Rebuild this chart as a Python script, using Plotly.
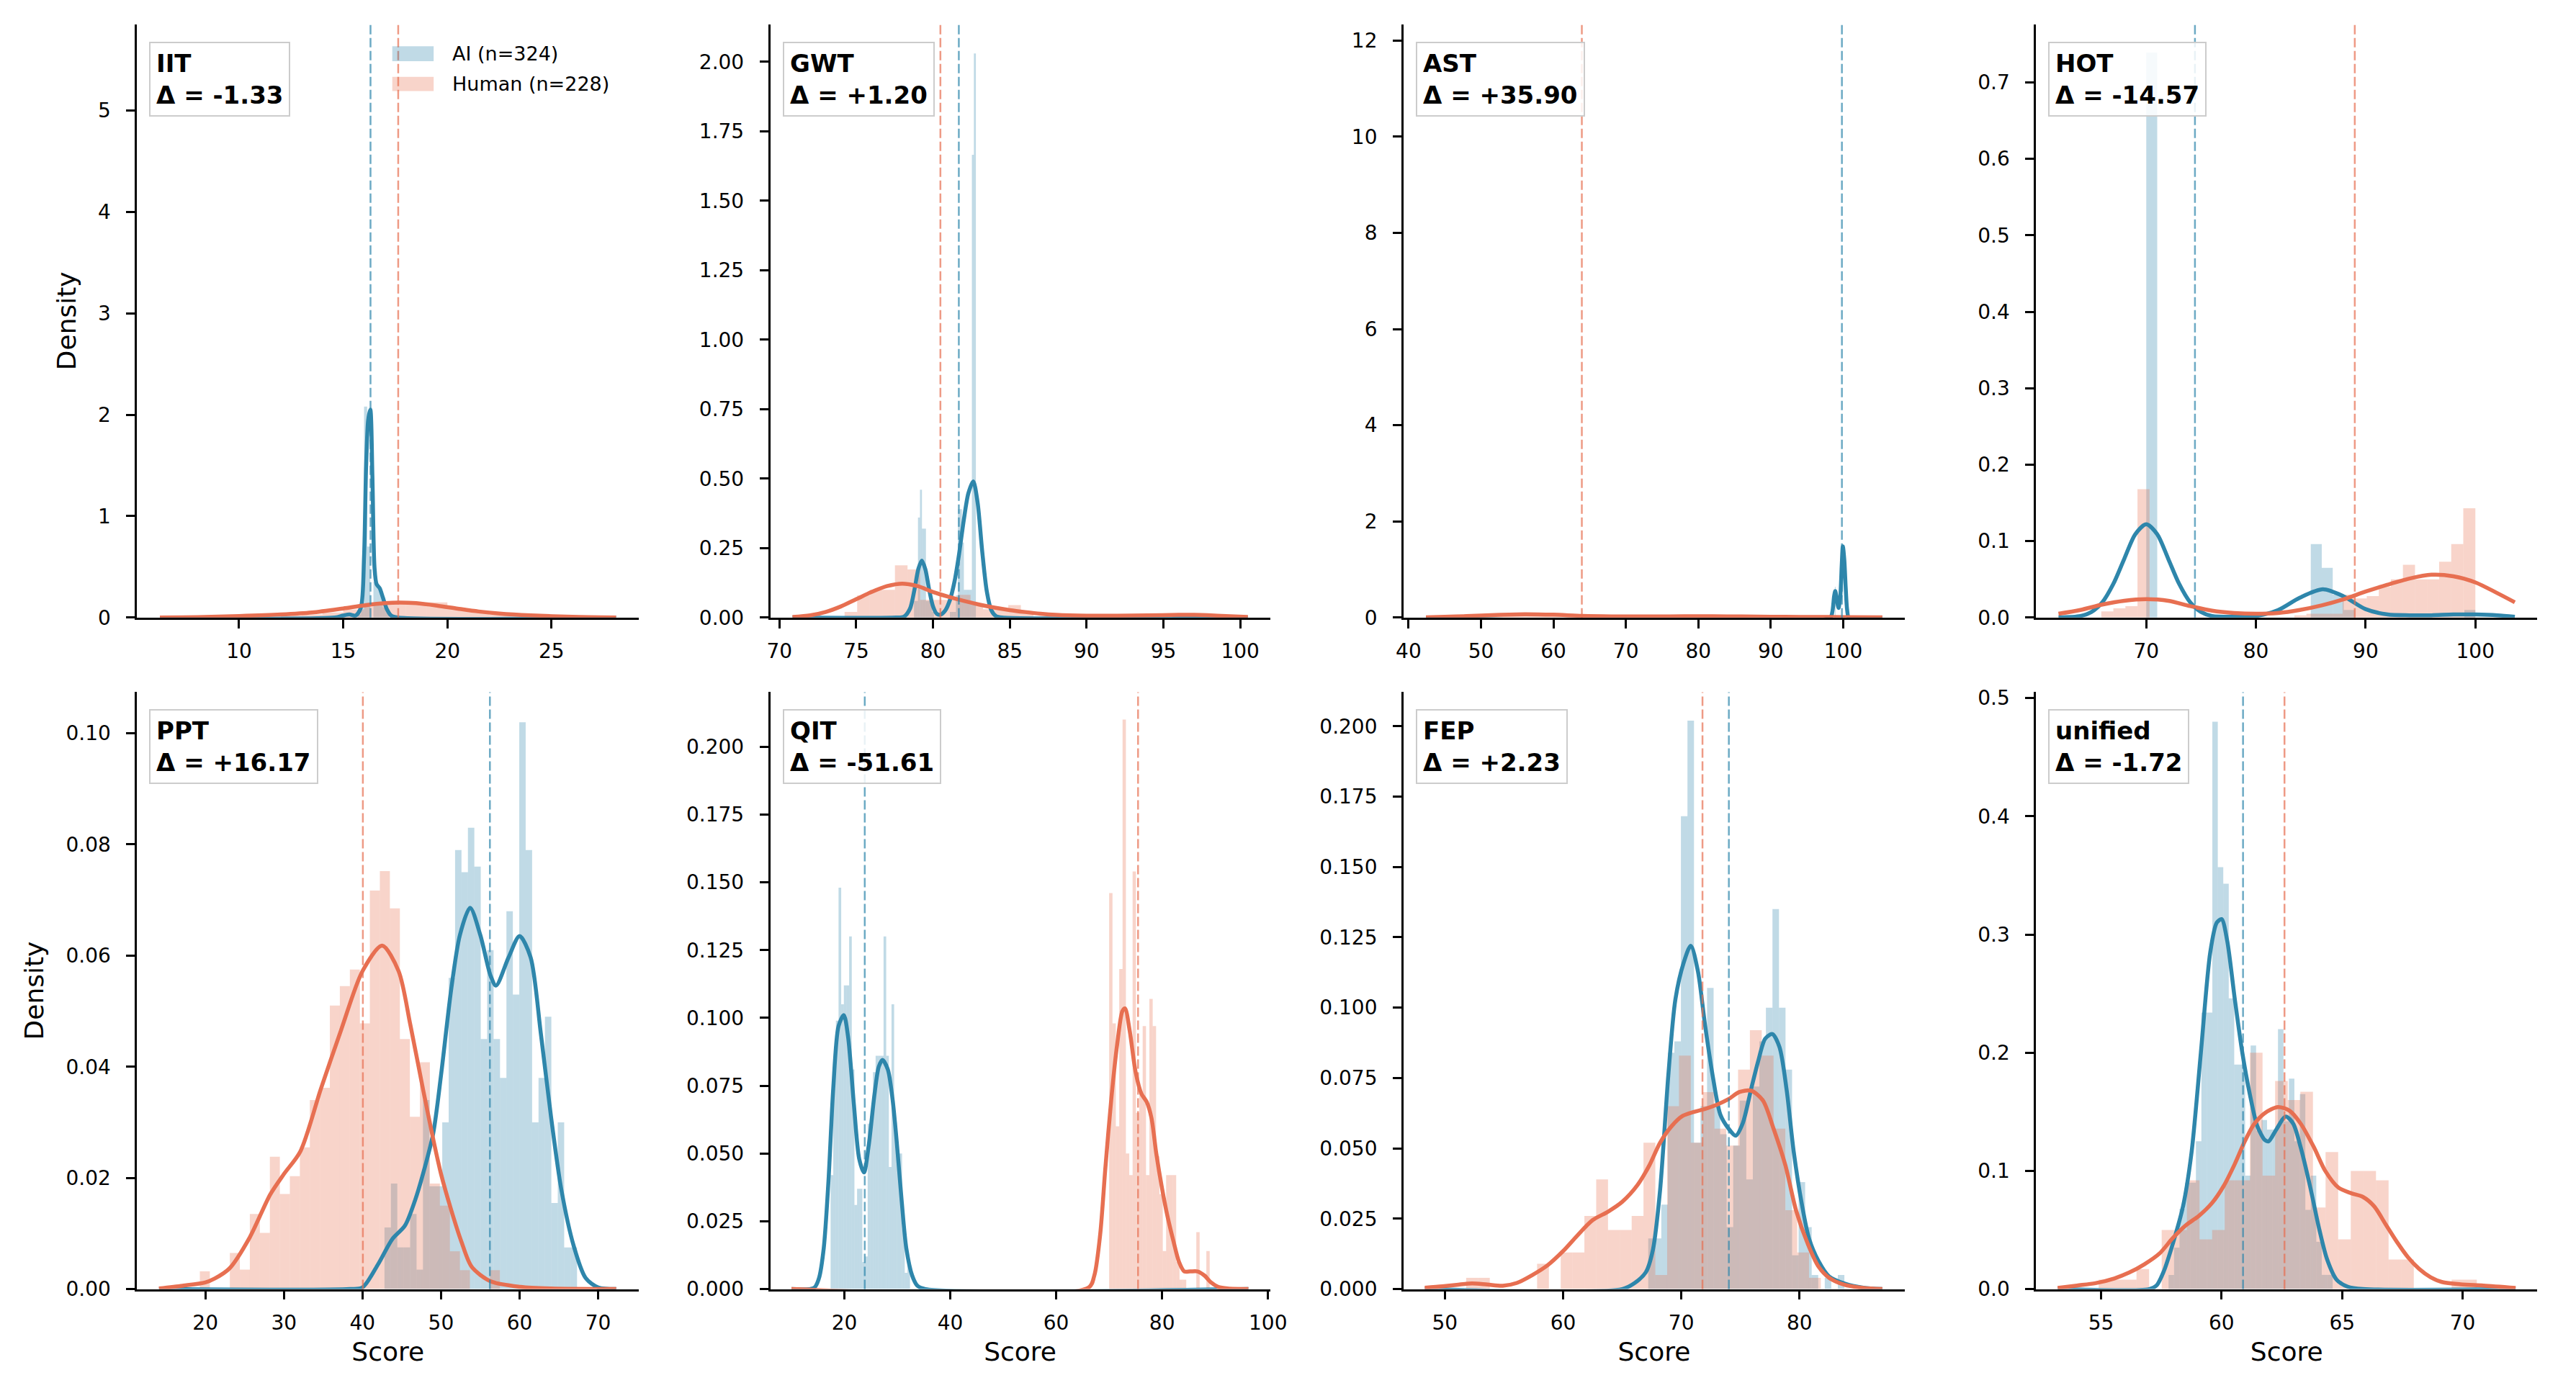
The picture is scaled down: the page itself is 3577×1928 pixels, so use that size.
import plotly.graph_objects as go

# ------------------------------------------------------------------ data
THEORIES = ["IIT", "GWT", "AST", "HOT", "PPT", "QIT", "FEP", "unified"]
DELTA_LABELS = ["-1.33", "+1.20", "+35.90", "-14.57", "+16.17", "-51.61", "+2.23", "-1.72"]
AI_MEANS = [16.31, 81.68, 99.82, 74.44, 56.22, 23.85, 74.02, 60.89]
HUMAN_MEANS = [17.64, 80.48, 63.92, 89.01, 40.05, 75.46, 71.79, 62.61]
N_AI = 324
N_HUMAN = 228

# histogram bins: first edge, bin width, densities
IIT_AI_START, IIT_AI_W = 15.70, 0.15
IIT_AI_H = [0.03, 0.15, 2.08, 0.70, 0.0, 0.35, 0.30, 0.25, 0.10, 0.05]
IIT_HU_START, IIT_HU_W = 10.0, 1.0
IIT_HU_H = [0.01, 0.0, 0.02, 0.03, 0.05, 0.08, 0.13, 0.15, 0.14, 0.15, 0.09, 0.06, 0.03, 0.02, 0.01, 0.005]

GWT_AI_START, GWT_AI_W = 78.76, 0.13
GWT_AI_H = [0.06, 0.06, 0.36, 0.46, 0.32, 0.32, 0.06, 0.06, 0.06, 0.02,
            0, 0, 0, 0, 0, 0, 0, 0, 0.02, 0.02,
            0.02, 0.08, 0.39, 0.39, 0.27, 0.10, 0.10, 0.10, 0.10, 1.665, 2.03]
GWT_HU_START, GWT_HU_W = 74.24, 0.82
GWT_HU_H = [0.02, 0.08, 0.10, 0.10, 0.188, 0.173, 0.064, 0.064, 0.064, 0.082,
            0.05, 0.03, 0.03, 0.045, 0.018, 0.005, 0.005, 0.0, 0.005, 0,
            0, 0, 0, 0, 0, 0, 0.01, 0.01, 0.005]

AST_AI_START, AST_AI_W = 98.85, 0.1
AST_AI_H = [0.64]
AST_HU_START, AST_HU_W = 50.0, 1.6
AST_HU_H = [0.04, 0.06, 0.08, 0.07, 0.10, 0.06, 0.05, 0.08, 0.04, 0.03,
            0.02, 0.03, 0.02, 0.02, 0.03, 0.02, 0.03, 0.04, 0.03, 0.02,
            0.03, 0.02, 0.02, 0.01, 0.02, 0.01, 0.02, 0.01, 0.01, 0.02]

HOT_AI_START, HOT_AI_W = 70.0, 1.0
HOT_AI_H = [0.739, 0, 0, 0, 0, 0, 0, 0, 0, 0,
            0, 0, 0, 0, 0, 0.096, 0.065, 0.03, 0.01, 0,
            0, 0, 0, 0, 0, 0, 0, 0, 0, 0.01]
HOT_HU_START, HOT_HU_W = 65.9, 1.1
HOT_HU_H = [0.008, 0.012, 0.015, 0.168, 0, 0, 0, 0, 0, 0,
            0, 0, 0, 0, 0, 0, 0.003, 0.005, 0.005, 0.005,
            0.03, 0.025, 0.028, 0.04, 0.05, 0.069, 0.05, 0.05, 0.073, 0.096, 0.143]

PPT_AI_START, PPT_AI_W = 42.8, 0.817
PPT_AI_H = [0.0111, 0.019, 0.0075, 0.0075, 0.0135, 0.0035, 0.034, 0.0185, 0.0185, 0.03,
            0.056, 0.079, 0.075, 0.083, 0.076, 0.045, 0.061, 0.045, 0.038, 0.068,
            0.053, 0.102, 0.079, 0.03, 0.038, 0.049, 0.0155, 0.03, 0.0075, 0.0075]
PPT_HU_START, PPT_HU_W = 19.3, 1.273
PPT_HU_H = [0.0032, 0, 0, 0.0065, 0.0035, 0.0135, 0.0101, 0.0238, 0.0171, 0.0203,
            0.0255, 0.034, 0.0362, 0.051, 0.0545, 0.0575, 0.0478, 0.0717, 0.0752, 0.0685,
            0.045, 0.031, 0.0408, 0.019, 0.015, 0.0068, 0.0034, 0, 0, 0.0034]

QIT_AI_START, QIT_AI_W = 17.4, 0.5
QIT_AI_H = [0.042, 0.08, 0.099, 0.148, 0.105, 0.112, 0.112, 0.13, 0.081, 0.031,
            0.037, 0.037, 0.01, 0.012, 0.061, 0.061, 0.08, 0.086, 0.086, 0.086,
            0.13, 0.086, 0.045, 0.105, 0.0615, 0.047, 0.05, 0.022, 0.006, 0.01]
QIT_HU_START, QIT_HU_W = 70.0, 0.633
QIT_HU_H = [0.146, 0.098, 0.06, 0.118, 0.21, 0.05, 0.042, 0.154, 0.065, 0.072,
            0.097, 0.042, 0.107, 0.097, 0.049, 0.035, 0.014, 0.042, 0.042, 0.042,
            0.01, 0.0035, 0.0035, 0, 0, 0, 0.021, 0, 0, 0.014]

FEP_AI_START, FEP_AI_W = 67.2, 0.553
FEP_AI_H = [0.018, 0.018, 0.03, 0.084, 0.088, 0.168, 0.202, 0.052, 0.065, 0.107,
            0.065, 0.055, 0.022, 0.051, 0.067, 0.039, 0.072, 0.088, 0.1, 0.135,
            0.1, 0.078, 0.012, 0.038, 0.022, 0.005, 0, 0.004, 0, 0.005]
FEP_HU_START, FEP_HU_W = 51.8, 1.0
FEP_HU_H = [0.004, 0.004, 0, 0, 0, 0, 0.009, 0, 0.013, 0.013,
            0.026, 0.039, 0.021, 0.021, 0.026, 0.052, 0.005, 0.065, 0.083, 0.052,
            0.07, 0.057, 0.051, 0.078, 0.092, 0.083, 0.057, 0.028, 0.013, 0.004]

UNI_AI_START, UNI_AI_W = 57.8, 0.227
UNI_AI_H = [0.012, 0.035, 0.068, 0.09, 0.09, 0.125, 0.234, 0.234, 0.48, 0.357,
            0.343, 0.246, 0.19, 0.19, 0.096, 0.206, 0.134, 0.143, 0.135, 0.135,
            0.22, 0.142, 0.178, 0.125, 0.165, 0.067, 0.096, 0.04, 0.012, 0.012]
UNI_HU_START, UNI_HU_W = 54.9, 0.523
UNI_HU_H = [0.008, 0.008, 0.008, 0.017, 0, 0.05, 0.05, 0.092, 0.042, 0.05,
            0.092, 0.092, 0.2, 0.096, 0.176, 0.16, 0.167, 0.069, 0.116, 0.042,
            0.1, 0.1, 0.092, 0.025, 0.025, 0, 0, 0, 0.008, 0.008]

# kernel density curves (x, density)
IIT_AI_KDE_X = [6.2, 14.6, 15.0, 15.3, 15.6, 15.85, 16.0, 16.1, 16.2, 16.3, 16.4, 16.5, 16.6, 16.75, 16.9, 17.1, 17.3, 17.6, 28.1]
IIT_AI_KDE_Y = [0, 0, 0.02, 0.03, 0.02, 0.1, 0.6, 1.5, 1.95, 2.05, 1.4, 0.5, 0.33, 0.29, 0.2, 0.08, 0.02, 0, 0]
IIT_HU_KDE_X = [6.2, 8, 10, 12, 13.5, 15, 16, 17, 17.7, 18.5, 19.5, 20.5, 21.5, 22.5, 24, 26, 28.1]
IIT_HU_KDE_Y = [0.0, 0.005, 0.015, 0.03, 0.05, 0.09, 0.12, 0.142, 0.148, 0.142, 0.118, 0.088, 0.06, 0.04, 0.022, 0.008, 0.001]

GWT_AI_KDE_X = [70.85, 77.6, 78.1, 78.5, 78.8, 79.05, 79.27, 79.5, 79.75, 80.0, 80.25, 80.5, 80.8, 81.1, 81.4,
                81.7, 82.0, 82.3, 82.62, 82.9, 83.2, 83.5, 83.8, 84.1, 84.5, 100.5]
GWT_AI_KDE_Y = [0, 0, 0.003, 0.032, 0.103, 0.176, 0.205, 0.174, 0.1, 0.04, 0.013, 0.011, 0.026, 0.063, 0.13,
                0.23, 0.35, 0.447, 0.49, 0.415, 0.24, 0.095, 0.026, 0.005, 0, 0]
GWT_HU_KDE_X = [70.85, 72, 73, 74, 75, 76, 77, 78, 79, 80, 81, 82, 83, 84, 85, 86, 87, 88, 90, 92, 94, 96, 97, 98.5, 100.5]
GWT_HU_KDE_Y = [0.002, 0.008, 0.02, 0.04, 0.066, 0.092, 0.113, 0.122, 0.113, 0.092, 0.075, 0.06, 0.047, 0.036,
                0.027, 0.02, 0.014, 0.01, 0.007, 0.007, 0.008, 0.01, 0.01, 0.007, 0.002]

AST_AI_KDE_X = [42.4, 98.2, 98.5, 98.75, 98.9, 99.1, 99.35, 99.6, 99.8, 99.95, 100.15, 100.35, 100.55, 100.8, 105.4]
AST_AI_KDE_Y = [0, 0, 0.12, 0.45, 0.55, 0.4, 0.2, 0.45, 1.1, 1.48, 1.2, 0.6, 0.15, 0, 0]
AST_HU_KDE_X = [42.4, 45, 48, 52, 56, 60, 64, 68, 72, 76, 80, 84, 88, 92, 96, 100, 105.4]
AST_HU_KDE_Y = [0.005, 0.015, 0.03, 0.055, 0.07, 0.06, 0.035, 0.025, 0.022, 0.025, 0.028, 0.025, 0.02, 0.015, 0.012, 0.01, 0.005]

HOT_AI_KDE_X = [62, 64, 65, 66, 67, 68, 69, 70, 71, 72, 73, 74, 75, 76, 78, 80, 82, 84, 86.1, 88, 90, 92, 94, 96,
                98, 100, 102, 103.6]
HOT_AI_KDE_Y = [0.0002, 0.002, 0.0072, 0.02, 0.044, 0.077, 0.109, 0.122, 0.109, 0.077, 0.044, 0.02, 0.0072, 0.002,
                0.001, 0.002, 0.0097, 0.026, 0.037, 0.0277, 0.011, 0.004, 0.003, 0.003, 0.004, 0.004, 0.003, 0.001]
HOT_HU_KDE_X = [62, 64, 66, 68, 70, 72, 74, 76, 78, 80, 82, 84, 86, 88, 90, 92, 94, 96, 98, 100, 102, 103.6]
HOT_HU_KDE_Y = [0.005, 0.01, 0.017, 0.022, 0.024, 0.022, 0.015, 0.009, 0.006, 0.005, 0.006, 0.01, 0.016, 0.024,
                0.034, 0.043, 0.051, 0.056, 0.054, 0.046, 0.032, 0.02]

PPT_AI_KDE_X = [14.1, 38.4, 40, 42, 43.8, 45.4, 46.7, 47.7, 49, 50, 51.3, 52.4, 53.7, 55, 56.3, 57, 58.6, 60,
                61.4, 62.7, 64, 65.3, 66.9, 68.4, 70, 72.3]
PPT_AI_KDE_Y = [0, 0, 0.0003, 0.0045, 0.009, 0.0114, 0.016, 0.0207, 0.028, 0.0385, 0.054, 0.0637, 0.0686, 0.0637,
                0.0564, 0.0546, 0.0597, 0.0635, 0.0597, 0.046, 0.031, 0.018, 0.0077, 0.002, 0.0003, 0]
PPT_HU_KDE_X = [14.1, 17.1, 20, 21.2, 23.06, 25.65, 28.25, 30, 32.1, 34.7, 37.3, 40, 42.5, 44.6, 46.1, 47.7, 49,
                50, 51.3, 52.6, 53.9, 56.3, 60.1, 64, 72.3]
PPT_HU_KDE_Y = [0.0001, 0.0006, 0.0012, 0.0019, 0.0037, 0.0093, 0.017, 0.0207, 0.0248, 0.036, 0.0467, 0.0572,
                0.0618, 0.0572, 0.0475, 0.036, 0.027, 0.0207, 0.0142, 0.0085, 0.004, 0.0014, 0.0004, 0.0001, 0]

QIT_AI_KDE_X = [10, 14.3, 15.2, 16.1, 17, 17.9, 18.9, 19.9, 20.7, 21.8, 22.8, 23.7, 24.6, 25.7, 26.5, 27.2, 28.2,
                29.1, 29.9, 30.8, 31.7, 32.8, 33.8, 35.3, 96.3]
QIT_AI_KDE_Y = [0, 0.0005, 0.004, 0.015, 0.04, 0.074, 0.097, 0.101, 0.093, 0.068, 0.048, 0.043, 0.053, 0.072,
                0.082, 0.0845, 0.081, 0.07, 0.054, 0.033, 0.015, 0.005, 0.0012, 0, 0]
QIT_HU_KDE_X = [10, 66.1, 67.2, 68.3, 69.3, 70.4, 71.5, 72.5, 73, 73.9, 75, 76.1, 77.1, 78, 78.9, 80, 81, 82.1,
                83.2, 84.2, 85.3, 86.7, 88, 89.2, 90.6, 92.4, 96.3]
QIT_HU_KDE_Y = [0, 0.0005, 0.005, 0.02, 0.045, 0.07, 0.09, 0.1025, 0.1035, 0.095, 0.08, 0.072, 0.069, 0.063, 0.05,
                0.037, 0.027, 0.018, 0.01, 0.0065, 0.0065, 0.0065, 0.005, 0.0025, 0.0008, 0.0002, 0]

FEP_AI_KDE_X = [48.3, 65, 66, 67, 67.6, 68.2, 68.9, 69.5, 70.2, 70.8, 71.4, 72.0, 72.7, 73.3, 74.0, 74.6, 75.2,
                75.9, 76.5, 77.1, 77.7, 78.3, 78.9, 79.5, 80.2, 80.8, 81.6, 82.5, 83.8, 85.4, 87]
FEP_AI_KDE_Y = [0, 0, 0.002, 0.006, 0.014, 0.035, 0.076, 0.103, 0.116, 0.122, 0.113, 0.094, 0.0746, 0.062, 0.057,
                0.0545, 0.059, 0.071, 0.081, 0.089, 0.0906, 0.086, 0.071, 0.049, 0.03, 0.018, 0.01, 0.0045, 0.002,
                0.0005, 0]
FEP_HU_KDE_X = [48.3, 49.8, 51, 52.3, 53.6, 54.9, 56.1, 57.4, 58.7, 60, 61.2, 62.5, 63.8, 65, 66.3, 67.3, 68.2,
                69.2, 70.1, 71.1, 72, 73, 74, 74.9, 75.9, 76.9, 77.8, 78.8, 79.7, 80.7, 81.6, 82.5, 83.8, 85.4, 87]
FEP_HU_KDE_Y = [0.0005, 0.001, 0.0015, 0.002, 0.0016, 0.0012, 0.0022, 0.005, 0.0085, 0.0135, 0.019, 0.0245,
                0.0275, 0.031, 0.037, 0.044, 0.052, 0.058, 0.0615, 0.063, 0.064, 0.0655, 0.0675, 0.07, 0.0705,
                0.067, 0.057, 0.044, 0.028, 0.016, 0.008, 0.004, 0.0015, 0.0004, 0]

UNI_AI_KDE_X = [53.2, 57.0, 57.3, 57.6, 58, 58.4, 58.75, 59.14, 59.53, 59.8, 60, 60.23, 60.55, 60.86, 61.17,
                61.48, 61.8, 61.95, 62.27, 62.66, 62.97, 63.28, 63.67, 64.06, 64.38, 64.77, 65.23, 65.86, 72.2]
UNI_AI_KDE_Y = [0, 0, 0.003, 0.015, 0.04, 0.07, 0.115, 0.2, 0.285, 0.31, 0.313, 0.295, 0.245, 0.2, 0.165, 0.138,
                0.126, 0.125, 0.135, 0.146, 0.14, 0.12, 0.087, 0.05, 0.025, 0.008, 0.002, 0, 0]
UNI_HU_KDE_X = [53.2, 54, 54.77, 55.55, 56.17, 56.8, 57.42, 57.97, 58.52, 59.06, 59.61, 60.08, 60.55, 60.94,
                61.33, 61.8, 62.34, 62.81, 63.28, 63.83, 64.3, 64.84, 65.39, 65.86, 66.33, 66.8, 67.27, 67.73,
                68.2, 68.67, 69.14, 69.92, 70.86, 72.2]
UNI_HU_KDE_Y = [0.001, 0.003, 0.005, 0.009, 0.014, 0.021, 0.03, 0.043, 0.054, 0.062, 0.073, 0.087, 0.106, 0.124,
                0.139, 0.149, 0.154, 0.151, 0.14, 0.12, 0.1, 0.086, 0.081, 0.078, 0.07, 0.055, 0.04, 0.027, 0.017,
                0.01, 0.006, 0.004, 0.003, 0.001]

# axis ranges and ticks per panel
X_RANGES = [[5.1, 29.2], [69.4, 101.95], [39.3, 108.5], [59.95, 105.65],
            [11.3, 75.2], [6.0, 100.4], [46.5, 88.9], [52.3, 73.1]]
Y_RANGES = [[0, 5.85], [0, 2.135], [0, 12.34], [0, 0.776],
            [0, 0.1074], [0, 0.2201], [0, 0.2121], [0, 0.505]]
X_TICKS = [[10, 15, 20, 25], [70, 75, 80, 85, 90, 95, 100], [40, 50, 60, 70, 80, 90, 100], [70, 80, 90, 100],
           [20, 30, 40, 50, 60, 70], [20, 40, 60, 80, 100], [50, 60, 70, 80], [55, 60, 65, 70]]
Y_TICKS = [[0, 1, 2, 3, 4, 5], [0, 0.25, 0.5, 0.75, 1.0, 1.25, 1.5, 1.75, 2.0], [0, 2, 4, 6, 8, 10, 12],
           [0, 0.1, 0.2, 0.3, 0.4, 0.5, 0.6, 0.7], [0, 0.02, 0.04, 0.06, 0.08, 0.10],
           [0, 0.025, 0.05, 0.075, 0.1, 0.125, 0.15, 0.175, 0.2],
           [0, 0.025, 0.05, 0.075, 0.1, 0.125, 0.15, 0.175, 0.2], [0, 0.1, 0.2, 0.3, 0.4, 0.5]]
Y_FORMATS = ["d", ".2f", "d", ".1f", ".2f", ".3f", ".3f", ".1f"]

PANELS = [
    (IIT_AI_START, IIT_AI_W, IIT_AI_H, IIT_HU_START, IIT_HU_W, IIT_HU_H,
     IIT_AI_KDE_X, IIT_AI_KDE_Y, IIT_HU_KDE_X, IIT_HU_KDE_Y),
    (GWT_AI_START, GWT_AI_W, GWT_AI_H, GWT_HU_START, GWT_HU_W, GWT_HU_H,
     GWT_AI_KDE_X, GWT_AI_KDE_Y, GWT_HU_KDE_X, GWT_HU_KDE_Y),
    (AST_AI_START, AST_AI_W, AST_AI_H, AST_HU_START, AST_HU_W, AST_HU_H,
     AST_AI_KDE_X, AST_AI_KDE_Y, AST_HU_KDE_X, AST_HU_KDE_Y),
    (HOT_AI_START, HOT_AI_W, HOT_AI_H, HOT_HU_START, HOT_HU_W, HOT_HU_H,
     HOT_AI_KDE_X, HOT_AI_KDE_Y, HOT_HU_KDE_X, HOT_HU_KDE_Y),
    (PPT_AI_START, PPT_AI_W, PPT_AI_H, PPT_HU_START, PPT_HU_W, PPT_HU_H,
     PPT_AI_KDE_X, PPT_AI_KDE_Y, PPT_HU_KDE_X, PPT_HU_KDE_Y),
    (QIT_AI_START, QIT_AI_W, QIT_AI_H, QIT_HU_START, QIT_HU_W, QIT_HU_H,
     QIT_AI_KDE_X, QIT_AI_KDE_Y, QIT_HU_KDE_X, QIT_HU_KDE_Y),
    (FEP_AI_START, FEP_AI_W, FEP_AI_H, FEP_HU_START, FEP_HU_W, FEP_HU_H,
     FEP_AI_KDE_X, FEP_AI_KDE_Y, FEP_HU_KDE_X, FEP_HU_KDE_Y),
    (UNI_AI_START, UNI_AI_W, UNI_AI_H, UNI_HU_START, UNI_HU_W, UNI_HU_H,
     UNI_AI_KDE_X, UNI_AI_KDE_Y, UNI_HU_KDE_X, UNI_HU_KDE_Y),
]

# ------------------------------------------------------------------ style
FONT = "DejaVu Sans"
FIG_W, FIG_H = 3577, 1928
COL_PX = [(181, 885), (1069, 1770), (1957, 2660), (2844, 3547)]
ROW_PX = [(26, 861), (966, 1806)]
AI_LINE = "#2E86AB"
HU_LINE = "#E76F51"
AI_FILL = "rgba(46,134,171,0.3)"
HU_FILL = "rgba(231,111,81,0.3)"
AI_MEAN = "rgba(46,134,171,0.7)"
HU_MEAN = "rgba(231,111,81,0.7)"

fig = go.Figure()
layout = dict(
    width=FIG_W, height=FIG_H, margin=dict(l=0, r=0, t=0, b=0),
    paper_bgcolor="white", plot_bgcolor="white", barmode="overlay",
    showlegend=False, font=dict(family=FONT, color="black"),
)
shapes, annotations = [], []


def centers(start, w, h):
    return [start + (i + 0.5) * w for i in range(len(h))]


for i, name in enumerate(THEORIES):
    n = i + 1
    sfx = "" if n == 1 else str(n)
    xa, ya = "x" + sfx, "y" + sfx
    r, c = divmod(i, 4)
    (a_s, a_w, a_h, h_s, h_w, h_h, akx, aky, hkx, hky) = PANELS[i]

    fig.add_trace(go.Bar(x=centers(a_s, a_w, a_h), y=a_h, width=a_w,
                         marker=dict(color=AI_FILL, line=dict(width=0)),
                         xaxis=xa, yaxis=ya, name="AI (n=%d)" % N_AI))
    fig.add_trace(go.Bar(x=centers(h_s, h_w, h_h), y=h_h, width=h_w,
                         marker=dict(color=HU_FILL, line=dict(width=0)),
                         xaxis=xa, yaxis=ya, name="Human (n=%d)" % N_HUMAN))
    fig.add_trace(go.Scatter(x=akx, y=aky, mode="lines",
                             line=dict(color=AI_LINE, width=5.5, shape="spline", smoothing=0.8),
                             xaxis=xa, yaxis=ya, name="AI KDE"))
    fig.add_trace(go.Scatter(x=hkx, y=hky, mode="lines",
                             line=dict(color=HU_LINE, width=5.5, shape="spline", smoothing=0.8),
                             xaxis=xa, yaxis=ya, name="Human KDE"))

    xd = [COL_PX[c][0] / FIG_W, COL_PX[c][1] / FIG_W]
    yd = [1 - ROW_PX[r][1] / FIG_H, 1 - ROW_PX[r][0] / FIG_H]
    common = dict(showline=True, linecolor="black", linewidth=2.5, ticks="outside", ticklen=12,
                  tickwidth=2.5, tickcolor="black", showgrid=False, zeroline=False,
                  tickfont=dict(family=FONT, size=28, color="black"))
    xaxis = dict(common, domain=xd, anchor=ya, range=X_RANGES[i], tickvals=X_TICKS[i],
                 ticklabelstandoff=8)
    yaxis = dict(common, domain=yd, anchor=xa, range=Y_RANGES[i], tickvals=Y_TICKS[i],
                 tickformat=Y_FORMATS[i], ticklabelstandoff=16)
    if r == 1:
        xaxis["title"] = dict(text="Score", font=dict(family=FONT, size=36), standoff=12)
    if c == 0:
        yaxis["title"] = dict(text="Density", font=dict(family=FONT, size=36), standoff=20)
    layout["xaxis" + sfx] = xaxis
    layout["yaxis" + sfx] = yaxis

    for mean, col in ((AI_MEANS[i], AI_MEAN), (HUMAN_MEANS[i], HU_MEAN)):
        shapes.append(dict(type="line", xref=xa, yref=ya + " domain", x0=mean, x1=mean, y0=0, y1=1,
                           line=dict(color=col, width=2.5, dash="13px,5px"), layer="above"))

    annotations.append(dict(
        text="<b>%s</b><br><b>Δ = %s</b>" % (name, DELTA_LABELS[i]),
        xref=xa + " domain", yref=ya + " domain", x=0, y=1, xanchor="left", yanchor="top",
        xshift=17, yshift=-24, align="left", showarrow=False,
        font=dict(family=FONT, size=34, color="black"),
        bgcolor="rgba(255,255,255,0.85)", bordercolor="#cccccc", borderwidth=2, borderpad=8))

# legend drawn inside the first panel (upper right)
LEG = [("AI (n=%d)" % N_AI, AI_FILL, 57, 78), ("Human (n=%d)" % N_HUMAN, HU_FILL, 100, 120)]
for label, fill, y0, y1 in LEG:
    shapes.append(dict(type="rect", xref="paper", yref="paper",
                       x0=539 / FIG_W, x1=597 / FIG_W, y0=1 - y1 / FIG_H, y1=1 - y0 / FIG_H,
                       fillcolor=fill, line=dict(width=0), layer="above"))
    annotations.append(dict(text=label, xref="paper", yref="paper", x=621 / FIG_W,
                            y=1 - (y0 + y1) / 2 / FIG_H, xanchor="left", yanchor="middle",
                            showarrow=False, font=dict(family=FONT, size=27, color="black")))

layout["shapes"] = shapes
layout["annotations"] = annotations
fig.update_layout(**layout)
fig.write_html("out.html")
